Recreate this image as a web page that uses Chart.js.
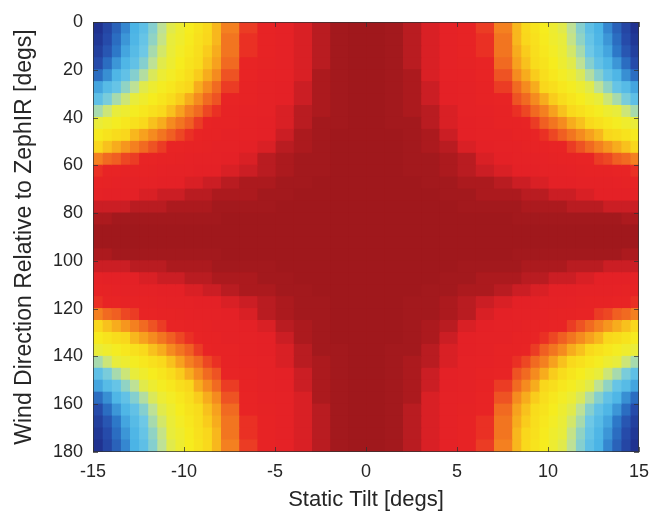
<!DOCTYPE html>
<html>
<head>
<meta charset="utf-8">
<script src="https://cdn.jsdelivr.net/npm/chart.js@4/dist/chart.umd.min.js"></script>
<style>
  html, body { margin: 0; padding: 0; background: #fff; }
  canvas { display: block; }
</style>
</head>
<body>
<canvas id="tiltChart" width="650" height="517"></canvas>
<script>
// Cell edges: static tilt (x, finer towards the edges) and wind direction (y)
const tiltEdges = [-15, -14.5, -14, -13.5, -13, -12.5, -12, -11.5, -11, -10.5, -10, -9.5, -9, -8.5, -8,
  -7, -6, -5, -4, -3, -2, -1, 0, 1, 2, 3, 4, 5, 6, 7,
  8, 8.5, 9, 9.5, 10, 10.5, 11, 11.5, 12, 12.5, 13, 13.5, 14, 14.5, 15];
const directionEdges = [0, 5, 10, 15, 20, 25, 30, 35, 40, 45, 50, 55, 60, 65, 70, 75, 80, 85, 90,
  95, 100, 105, 110, 115, 120, 125, 130, 135, 140, 145, 150, 155, 160, 165, 170, 175, 180];

const xTicks = [-15, -10, -5, 0, 5, 10, 15];
const yTicks = [0, 20, 40, 60, 80, 100, 120, 140, 160, 180];

// Relative level per cell (0 = dark red, 100 = dark blue)
// one row per direction band, one column per tilt cell
const levels = [
  [97,90,84,78,72,67,61,56,51,47,42,38,34,30,25,19,13,9,5,3,1,0, 0,1,3,5,9,13,19,25,30,34,38,42,47,51,56,61,67,72,78,84,90,97],
  [95,88,82,76,71,65,60,55,50,46,41,37,33,30,24,18,13,9,5,3,1,0, 0,1,3,5,9,13,18,24,30,33,37,41,46,50,55,60,65,71,76,82,88,95],
  [92,86,80,74,69,63,58,53,49,44,40,36,32,29,24,18,13,9,5,3,1,0, 0,1,3,5,9,13,18,24,29,32,36,40,44,49,53,58,63,69,74,80,86,92],
  [88,82,76,71,66,61,56,51,47,42,38,35,31,28,23,17,12,8,5,3,1,0, 0,1,3,5,8,12,17,23,28,31,35,38,42,47,51,56,61,66,71,76,82,88],
  [82,77,71,66,61,57,52,48,44,40,36,32,29,26,21,16,11,8,5,2,1,0, 0,1,2,5,8,11,16,21,26,29,32,36,40,44,48,52,57,61,66,71,77,82],
  [74,69,65,60,56,51,47,43,40,36,33,29,26,23,19,14,10,7,4,2,1,0, 0,1,2,4,7,10,14,19,23,26,29,33,36,40,43,47,51,56,60,65,69,74],
  [67,62,58,54,50,46,42,39,35,32,29,26,23,21,17,13,9,6,4,2,1,0, 0,1,2,4,6,9,13,17,21,23,26,29,32,35,39,42,46,50,54,58,62,67],
  [58,54,50,47,43,40,37,34,31,28,25,23,20,18,15,11,8,5,3,2,1,0, 0,1,2,3,5,8,11,15,18,20,23,25,28,31,34,37,40,43,47,50,54,58],
  [49,46,43,40,37,34,31,29,26,24,22,19,17,15,13,10,7,5,3,1,1,0, 0,1,1,3,5,7,10,13,15,17,19,22,24,26,29,31,34,37,40,43,46,49],
  [41,38,35,33,30,28,26,24,22,20,18,16,14,13,10,8,6,4,2,1,0,0, 0,0,1,2,4,6,8,10,13,14,16,18,20,22,24,26,28,30,33,35,38,41],
  [33,31,29,27,25,23,21,19,17,16,14,13,12,10,8,6,5,3,2,1,0,0, 0,0,1,2,3,5,6,8,10,12,13,14,16,17,19,21,23,25,27,29,31,33],
  [25,23,22,20,19,17,16,15,13,12,11,10,9,8,6,5,3,2,1,1,0,0, 0,0,1,1,2,3,5,6,8,9,10,11,12,13,15,16,17,19,20,22,23,25],
  [18,17,16,15,14,13,12,11,10,9,8,7,6,6,5,4,3,2,1,1,0,0, 0,0,1,1,2,3,4,5,6,6,7,8,9,10,11,12,13,14,15,16,17,18],
  [13,12,11,10,9,9,8,7,7,6,5,5,4,4,3,2,2,1,1,0,0,0, 0,0,0,1,1,2,2,3,4,4,5,5,6,7,7,8,9,9,10,11,12,13],
  [8,7,7,6,6,5,5,4,4,4,3,3,3,2,2,2,1,1,0,0,0,0, 0,0,0,0,1,1,2,2,2,3,3,3,4,4,4,5,5,6,6,7,7,8],
  [4,4,4,4,3,3,3,3,2,2,2,2,2,1,1,1,1,0,0,0,0,0, 0,0,0,0,0,1,1,1,1,2,2,2,2,2,3,3,3,3,4,4,4,4],
  [2,2,1,1,1,1,1,1,1,1,1,1,1,1,0,0,0,0,0,0,0,0, 0,0,0,0,0,0,0,0,1,1,1,1,1,1,1,1,1,1,1,1,2,2],
  [0,0,0,0,0,0,0,0,0,0,0,0,0,0,0,0,0,0,0,0,0,0, 0,0,0,0,0,0,0,0,0,0,0,0,0,0,0,0,0,0,0,0,0,0],
  [0,0,0,0,0,0,0,0,0,0,0,0,0,0,0,0,0,0,0,0,0,0, 0,0,0,0,0,0,0,0,0,0,0,0,0,0,0,0,0,0,0,0,0,0],
  [2,2,1,1,1,1,1,1,1,1,1,1,1,1,0,0,0,0,0,0,0,0, 0,0,0,0,0,0,0,0,1,1,1,1,1,1,1,1,1,1,1,1,2,2],
  [4,4,4,4,3,3,3,3,2,2,2,2,2,1,1,1,1,0,0,0,0,0, 0,0,0,0,0,1,1,1,1,2,2,2,2,2,3,3,3,3,4,4,4,4],
  [8,7,7,6,6,5,5,4,4,4,3,3,3,2,2,2,1,1,0,0,0,0, 0,0,0,0,1,1,2,2,2,3,3,3,4,4,4,5,5,6,6,7,7,8],
  [13,12,11,10,9,9,8,7,7,6,5,5,4,4,3,2,2,1,1,0,0,0, 0,0,0,1,1,2,2,3,4,4,5,5,6,7,7,8,9,9,10,11,12,13],
  [18,17,16,15,14,13,12,11,10,9,8,7,6,6,5,4,3,2,1,1,0,0, 0,0,1,1,2,3,4,5,6,6,7,8,9,10,11,12,13,14,15,16,17,18],
  [25,23,22,20,19,17,16,15,13,12,11,10,9,8,6,5,3,2,1,1,0,0, 0,0,1,1,2,3,5,6,8,9,10,11,12,13,15,16,17,19,20,22,23,25],
  [33,31,29,27,25,23,21,19,17,16,14,13,12,10,8,6,5,3,2,1,0,0, 0,0,1,2,3,5,6,8,10,12,13,14,16,17,19,21,23,25,27,29,31,33],
  [41,38,35,33,30,28,26,24,22,20,18,16,14,13,10,8,6,4,2,1,0,0, 0,0,1,2,4,6,8,10,13,14,16,18,20,22,24,26,28,30,33,35,38,41],
  [49,46,43,40,37,34,31,29,26,24,22,19,17,15,13,10,7,5,3,1,1,0, 0,1,1,3,5,7,10,13,15,17,19,22,24,26,29,31,34,37,40,43,46,49],
  [58,54,50,47,43,40,37,34,31,28,25,23,20,18,15,11,8,5,3,2,1,0, 0,1,2,3,5,8,11,15,18,20,23,25,28,31,34,37,40,43,47,50,54,58],
  [67,62,58,54,50,46,42,39,35,32,29,26,23,21,17,13,9,6,4,2,1,0, 0,1,2,4,6,9,13,17,21,23,26,29,32,35,39,42,46,50,54,58,62,67],
  [74,69,65,60,56,51,47,43,40,36,33,29,26,23,19,14,10,7,4,2,1,0, 0,1,2,4,7,10,14,19,23,26,29,33,36,40,43,47,51,56,60,65,69,74],
  [82,77,71,66,61,57,52,48,44,40,36,32,29,26,21,16,11,8,5,2,1,0, 0,1,2,5,8,11,16,21,26,29,32,36,40,44,48,52,57,61,66,71,77,82],
  [88,82,76,71,66,61,56,51,47,42,38,35,31,28,23,17,12,8,5,3,1,0, 0,1,3,5,8,12,17,23,28,31,35,38,42,47,51,56,61,66,71,76,82,88],
  [92,86,80,74,69,63,58,53,49,44,40,36,32,29,24,18,13,9,5,3,1,0, 0,1,3,5,9,13,18,24,29,32,36,40,44,49,53,58,63,69,74,80,86,92],
  [95,88,82,76,71,65,60,55,50,46,41,37,33,30,24,18,13,9,5,3,1,0, 0,1,3,5,9,13,18,24,30,33,37,41,46,50,55,60,65,71,76,82,88,95],
  [97,90,84,78,72,67,61,56,51,47,42,38,34,30,25,19,13,9,5,3,1,0, 0,1,3,5,9,13,19,25,30,34,38,42,47,51,56,61,67,72,78,84,90,97],
];

// jet-like colour scale, reversed (low = dark red, high = dark blue)
const COLOR_STOPS = [
  [0, 160, 24, 28], [1, 163, 25, 29], [2.5, 176, 27, 31], [4.5, 212, 31, 37],
  [6, 228, 33, 38], [17, 232, 36, 37], [22, 240, 95, 34], [27, 246, 150, 30],
  [33, 249, 215, 28], [42, 246, 236, 30], [50, 232, 236, 60], [56, 190, 225, 150],
  [63, 110, 200, 230], [72, 75, 180, 230], [80, 45, 120, 200], [88, 38, 75, 170],
  [100, 30, 42, 135],
];

function levelColor(v) {
  for (let i = 1; i < COLOR_STOPS.length; i++) {
    const a = COLOR_STOPS[i - 1];
    const b = COLOR_STOPS[i];
    if (v <= b[0]) {
      const t = (v - a[0]) / (b[0] - a[0]);
      const c = [1, 2, 3].map((k) => Math.round(a[k] + (b[k] - a[k]) * t));
      return `rgb(${c[0]},${c[1]},${c[2]})`;
    }
  }
  const last = COLOR_STOPS[COLOR_STOPS.length - 1];
  return `rgb(${last[1]},${last[2]},${last[3]})`;
}

const directionCenters = directionEdges.slice(0, -1).map((e, i) => (e + directionEdges[i + 1]) / 2);

// one dataset per tilt column; each cell is a horizontal floating bar
const datasets = tiltEdges.slice(0, -1).map((x0, j) => ({
  data: directionCenters.map((y) => ({ y, x: [x0, tiltEdges[j + 1]] })),
  backgroundColor: levels.map((row) => levelColor(row[j])),
  borderWidth: 0,
  grouped: false,
  barPercentage: 1,
  categoryPercentage: 1,
  inflateAmount: 0.6,
}));

// MATLAB-style box with inward tick marks
const axesBox = {
  id: "axesBox",
  afterDatasetsDraw(chart) {
    const { ctx, chartArea: a, scales } = chart;
    ctx.save();
    ctx.strokeStyle = "rgba(50,50,50,0.75)";
    ctx.lineWidth = 1;
    ctx.strokeRect(a.left + 0.5, a.top + 0.5, a.right - a.left - 1, a.bottom - a.top - 1);
    ctx.beginPath();
    xTicks.forEach((t) => {
      const px = Math.round(scales.x.getPixelForValue(t)) + 0.5;
      ctx.moveTo(px, a.bottom); ctx.lineTo(px, a.bottom - 5);
      ctx.moveTo(px, a.top); ctx.lineTo(px, a.top + 5);
    });
    yTicks.forEach((t) => {
      const py = Math.round(scales.y.getPixelForValue(t)) + 0.5;
      ctx.moveTo(a.left, py); ctx.lineTo(a.left + 5, py);
      ctx.moveTo(a.right, py); ctx.lineTo(a.right - 5, py);
    });
    ctx.stroke();
    ctx.restore();
  },
};

Chart.defaults.font.family = '"Liberation Sans", Arial, sans-serif';
Chart.defaults.color = "#262626";

new Chart(document.getElementById("tiltChart"), {
  type: "bar",
  data: { datasets },
  plugins: [axesBox],
  options: {
    indexAxis: "y",
    responsive: false,
    animation: false,
    layout: { padding: { top: 22, right: 0, left: 0, bottom: 0 } },
    plugins: { legend: { display: false }, tooltip: { enabled: false } },
    scales: {
      x: {
        type: "linear",
        min: -15,
        max: 15,
        offset: false,
        afterFit: (s) => {
          s.height = 65;
          s.paddingLeft = 0;
          s.paddingRight = 11;
        },
        afterBuildTicks: (s) => { s.ticks = xTicks.map((v) => ({ value: v })); },
        ticks: { font: { size: 18 }, padding: 9, maxRotation: 0 },
        grid: { display: false, drawTicks: false },
        border: { display: false },
        title: { display: true, text: "Static Tilt [degs]", font: { size: 22 }, padding: { bottom: 4 } },
      },
      y: {
        type: "linear",
        min: 0,
        max: 180,
        reverse: true,
        offset: false,
        afterFit: (s) => { s.width = 93; },
        afterBuildTicks: (s) => { s.ticks = yTicks.map((v) => ({ value: v })); },
        ticks: { font: { size: 18 }, padding: 10 },
        grid: { display: false, drawTicks: false, offset: false },
        border: { display: false },
        title: { display: true, text: "Wind Direction Relative to ZephIR [degs]", font: { size: 23 }, padding: { top: 11 } },
      },
    },
  },
});
</script>
</body>
</html>
